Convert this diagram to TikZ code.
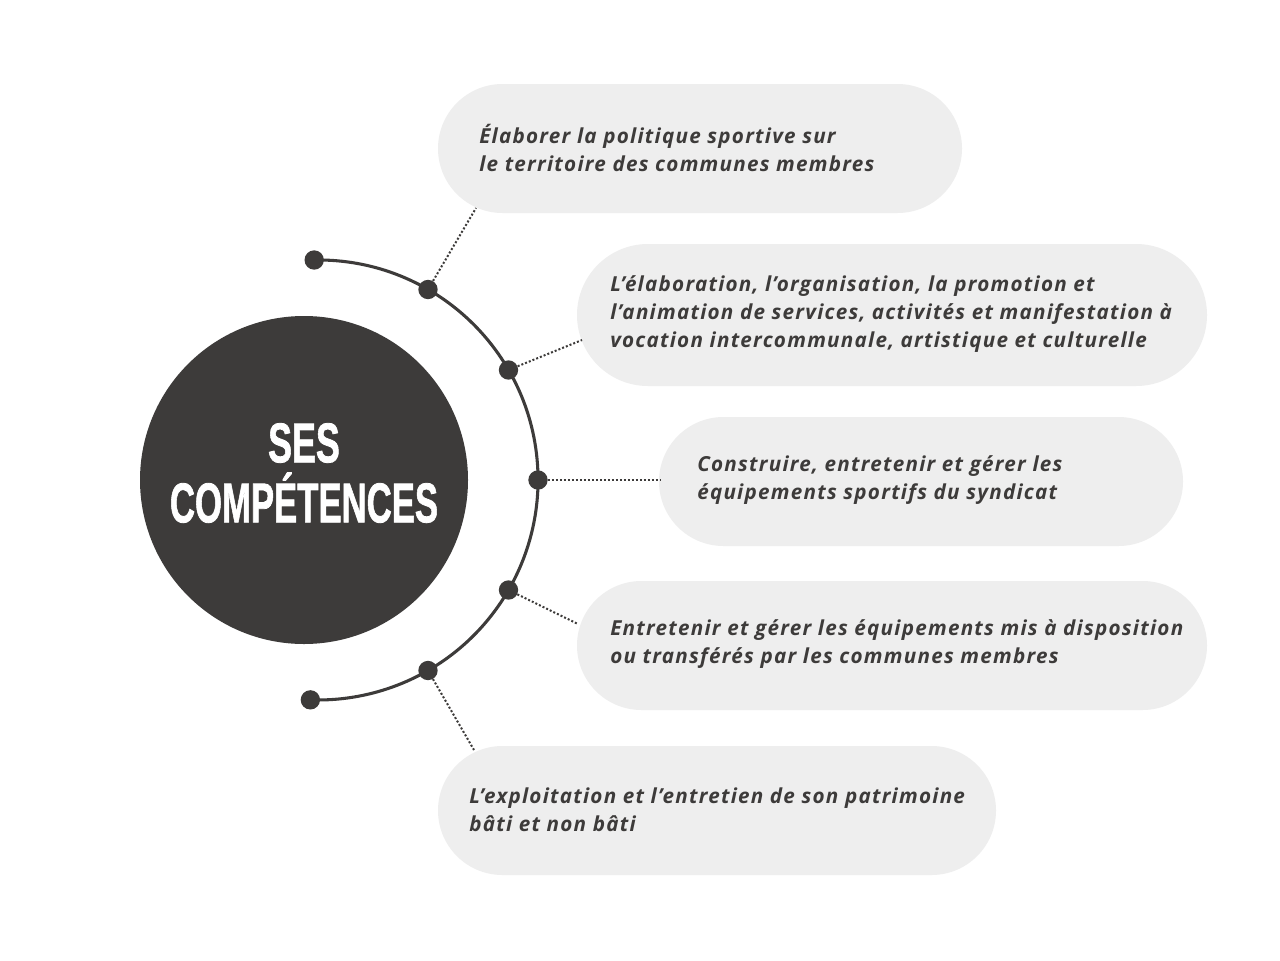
\documentclass[tikz,border=0pt]{standalone}
\usepackage{fontspec}
\usetikzlibrary{shapes.misc}
\setmainfont{Open Sans}
\newfontfamily\pillfont{Open Sans}[LetterSpace=6]
\newfontfamily\titlefont{Liberation Sans}[FakeBold=1.5]
\definecolor{dark}{HTML}{3D3B3A}
\definecolor{pillgray}{HTML}{EEEEEE}
\tikzset{
  pill/.style={rounded rectangle, fill=pillgray, inner sep=0pt},
  pilltext/.style={anchor=west, align=left, text=dark, inner sep=0pt,
    font=\pillfont\itshape\bfseries\fontsize{15.5}{21}\selectfont},
  dotnode/.style={circle, fill=dark, inner sep=0pt, minimum size=14.5pt},
  link/.style={draw=dark, line width=1.5pt, dash pattern=on 1.5pt off 1.5pt},
  ring/.style={draw=dark, line width=2.3pt}
}
\begin{document}
\begin{tikzpicture}[x=0.75pt,y=-0.75pt]
\useasboundingbox (0,0) rectangle (1280,960);
\fill[white] (0,0) rectangle (1280,960);
% big circle
\node[circle, fill=dark, minimum size=246pt, inner sep=0pt] (core) at (304,480) {};
\node[text=white, align=center, font=\titlefont\bfseries\fontsize{42}{45}\selectfont, inner sep=0pt] (title) at (304,473)
  {\scalebox{0.64}[1]{SES}\\\scalebox{0.62}[1]{COMPÉTENCES}};
% arc
\coordinate (e1) at (314.2,260);
\draw[ring] (e1) arc[start angle=91, end angle=-92, radius=165pt] coordinate (e2);
\node[dotnode] (s1) at (e1) {};
\node[dotnode] (s2) at (e2) {};
\node[dotnode] (d1) at (428,289.5) {};
\node[dotnode] (d2) at (508.5,370) {};
\node[dotnode] (d3) at (538,480) {};
\node[dotnode] (d4) at (508.5,590) {};
\node[dotnode] (d5) at (428,670.5) {};
% pills
\node[pill, minimum width=393pt, minimum height=96.75pt] (p1) at (700,148.5) {};
\node[pill, minimum width=472.5pt, minimum height=106.5pt] (p2) at (892,315) {};
\node[pill, minimum width=393pt, minimum height=96.75pt] (p3) at (921,481.5) {};
\node[pill, minimum width=472.5pt, minimum height=96.75pt] (p4) at (892,645.5) {};
\node[pill, minimum width=418.5pt, minimum height=96.75pt] (p5) at (717,810.5) {};
% connector ends
\coordinate (c1) at (476,208);
\coordinate (c2) at (582,340);
\coordinate (c3) at (660,480);
\coordinate (c4) at (578,624);
\coordinate (c5) at (474,750);
\draw[link] (d1) -- (c1);
\draw[link] (d2) -- (c2);
\draw[link] (d3) -- (c3);
\draw[link] (d4) -- (c4);
\draw[link] (d5) -- (c5);
% texts
\node[pilltext] (t1) at (479,148) {Élaborer la politique sportive sur\\le territoire des communes membres};
\node[pilltext] (t2) at (610,314) {L’élaboration, l’organisation, la promotion et\\l’animation de services, activités et manifestation à\\vocation intercommunale, artistique et culturelle};
\node[pilltext] (t3) at (697,480) {Construire, entretenir et gérer les\\équipements sportifs du syndicat};
\node[pilltext] (t4) at (610,644) {Entretenir et gérer les équipements mis à disposition\\ou transférés par les communes membres};
\node[pilltext] (t5) at (469,810) {L’exploitation et l’entretien de son patrimoine\\bâti et non bâti};
\end{tikzpicture}
\end{document}
